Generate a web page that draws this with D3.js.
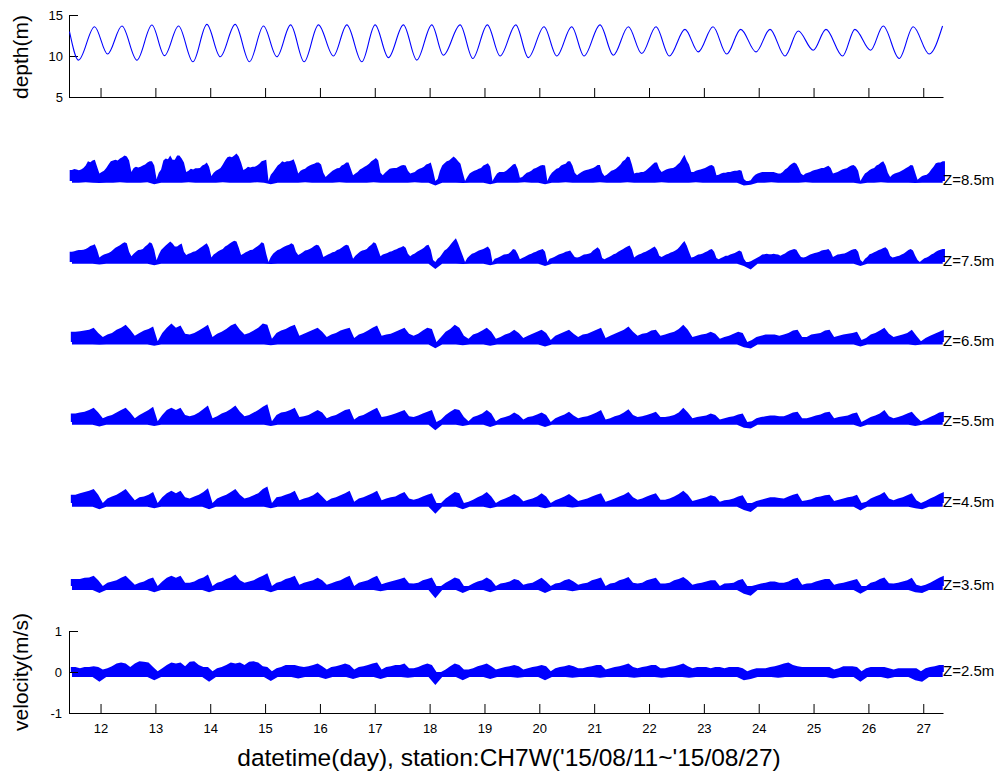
<!DOCTYPE html>
<html><head><meta charset="utf-8">
<script src="https://cdn.jsdelivr.net/npm/d3@7"></script>
<style>body{margin:0;background:#fff;} svg text{font-family:"Liberation Sans",Arial,sans-serif;}</style>
</head><body><svg id="c" width="1000" height="778"></svg>
<script>
// ---------- data ----------
const dayTicks = [12,13,14,15,16,17,18,19,20,21,22,23,24,25,26,27];
const depthTicks = [5,10,15];
const velTicks = [-1,0,1];
const depthLevels = [8.5,7.5,6.5,5.5,4.5,3.5,2.5];
const depthLabels = ["Z=8.5m","Z=7.5m","Z=6.5m","Z=5.5m","Z=4.5m","Z=3.5m","Z=2.5m"];
const xTitle = "datetime(day), station:CH7W('15/08/11~'15/08/27)";

// tide: successive high / low water (day, depth m)
const tideDay = [11.435,11.599,11.891,12.128,12.390,12.663,12.937,13.166,13.422,13.684,13.939,14.182,14.455,14.716,14.971,15.215,15.466,15.712,15.973,16.246,16.491,16.764,17.006,17.249,17.522,17.766,18.040,18.251,18.556,18.787,19.053,19.285,19.571,19.800,20.086,20.318,20.591,20.815,21.107,21.349,21.623,21.867,22.128,22.370,22.656,22.899,23.167,23.416,23.672,23.951,24.206,24.479,24.721,24.995,25.226,25.530,25.754,26.040,26.270,26.561,26.817,27.108,27.352];
const tideDepth = [12.96,9.5,13.57,10.24,13.66,9.5,13.78,10.04,13.66,9.3,13.86,9.9,13.86,9.3,13.66,9.9,13.8,9.3,13.8,10.0,13.8,9.3,13.8,9.8,13.8,9.5,13.8,10.1,13.8,9.7,13.8,10.0,13.8,9.8,13.57,10.0,13.57,10.0,13.8,10.1,13.57,10.3,13.57,10.0,13.25,10.5,13.57,10.24,13.25,10.5,13.25,10.0,13.05,10.7,13.25,10.0,13.25,10.7,13.66,9.7,13.57,10.24,13.66];

// stick velocities (cm/s), first sample 11 Aug 10:00
const startDay = 11 + 10/24;
const hi85 = [27,27,29,28,26,28,32,38,48,46,50,52, 35,18,22,25,32,40,48,50,52,50,55,58, 62,60,50,22,32,35,33,35,38,40,45,48,
 48,38,5,20,28,50,55,53,62,52,52,62, 62,55,45,22,25,30,28,31,31,32,38,40, 45,35,12,20,25,28,32,40,50,58,60,58,
 62,67,60,45,27,30,35,33,35,35,38,42, 48,50,52,0,15,22,30,38,42,48,46,48, 48,50,53,38,18,25,28,30,35,38,40,42,
 45,45,40,20,10,15,20,25,28,31,32,38, 40,45,45,30,14,18,22,28,31,35,38,42, 48,52,56,50,20,14,20,25,30,31,32,32,
 35,38,39,38,25,18,20,22,27,30,32,35, 40,42,45,25,0,5,25,38,43,48,50,55, 60,55,48,42,20,0,10,18,22,25,27,30,
 32,38,40,43,35,0,10,18,22,22,22,25, 30,35,40,42,30,8,10,15,20,22,25,30, 32,35,38,39,38,0,12,20,25,30,32,38,
 40,42,48,48,38,20,14,18,22,25,27,28, 30,32,35,39,39,20,12,15,20,25,27,30, 35,40,48,52,60,58,40,18,20,20,22,22,
 25,30,35,40,45,45,30,22,25,28,30,31, 32,35,40,45,55,64,50,40,22,22,25,27, 28,30,32,35,38,39,35,14,15,18,20,20,
 22,22,24,25,25,27,25,5,0,0,2,10, 15,18,20,22,22,22,22,22,22,20,18,18, 22,28,32,38,42,45,42,32,18,14,18,20,
 22,25,27,28,30,32,32,35,37,32,18,20, 22,25,28,30,31,35,38,39,35,25,0,10, 18,22,27,30,32,38,40,45,48,38,20,10,
 15,18,20,22,25,28,32,35,39,38,20,3, 8,12,14,15,20,28,35,43,45,45,48,48];
const hi75 = [25,25,26,28,29,29,30,32,35,39,41,43, 30,11,15,18,20,22,25,30,35,38,41,45, 48,46,25,14,20,25,29,30,32,38,42,48,
 45,30,4,18,29,35,40,45,50,45,38,38, 42,45,25,17,20,22,25,26,30,34,38,42, 46,35,11,18,22,26,29,32,38,41,45,49,
 52,50,35,17,20,24,26,29,30,34,38,42, 48,45,20,0,12,20,25,29,31,35,38,40, 42,46,42,25,17,20,24,28,29,32,35,39,
 42,40,30,12,15,18,21,24,25,29,31,35, 39,42,40,25,8,15,20,25,28,29,32,38, 42,48,45,30,14,18,20,22,25,26,29,31,
 34,36,39,35,20,14,18,21,25,28,31,35, 40,42,30,5,0,8,12,20,28,32,38,45, 52,58,45,30,15,0,10,15,20,22,25,28,
 30,32,35,38,30,0,8,10,12,15,18,19, 20,25,32,30,20,7,10,12,15,18,20,23, 25,28,30,32,25,0,8,10,12,15,18,20,
 22,25,26,28,20,12,11,12,15,18,19,20, 22,28,32,36,30,10,7,10,12,15,19,21, 25,28,31,35,38,40,30,11,15,18,20,23,
 25,28,31,35,38,30,15,12,15,18,20,23, 25,28,32,38,45,51,40,25,11,12,15,18, 19,21,24,26,30,32,25,10,7,10,12,15,
 15,18,20,22,25,28,25,8,0,0,2,5, 8,11,14,18,19,20,19,19,20,19,18,15, 18,21,25,28,30,32,30,20,12,11,12,15,
 18,20,22,23,25,28,29,30,32,25,12,15, 18,19,20,21,23,26,29,31,32,25,5,0, 8,12,19,21,24,26,29,31,34,36,30,15,
 11,12,14,15,18,21,25,29,32,28,15,5, 0,5,9,11,14,18,21,25,28,30,32,32];
const hi65 = [25,25,26,28,30,35,22,12,18,22,30,35, 42,30,15,22,28,32,38,2,22,35,45,35, 40,20,18,22,28,35,42,12,20,25,32,40,
 45,30,18,22,28,35,45,42,8,22,28,32, 38,42,15,20,25,30,35,25,12,18,22,28, 32,35,10,18,22,28,35,40,15,18,20,25,
 30,35,20,15,20,28,35,32,0,12,25,32, 42,35,15,8,18,22,28,35,25,8,12,18, 22,30,22,10,15,20,25,30,22,5,15,20,
 25,30,20,12,18,20,25,30,35,10,15,20, 25,30,38,25,15,20,22,28,30,15,18,22, 25,32,42,30,12,15,18,20,25,20,8,12,
 15,20,25,22,0,5,12,15,18,18,18,15, 18,22,28,30,12,12,18,20,22,28,30,12, 15,18,20,22,25,5,10,18,22,28,35,20,
 12,15,18,22,30,15,2,10,15,20,25,30];
const hi55 = [21,21,23,25,29,35,23,9,14,17,23,29, 35,23,9,17,23,29,37,2,17,29,35,29, 35,17,14,17,23,32,40,9,14,21,25,32,
 40,25,14,17,23,29,37,43,2,17,23,25, 29,35,12,14,17,23,29,23,9,14,17,23, 29,32,6,14,17,23,29,35,12,14,17,21,
 25,29,14,12,16,21,25,29,0,6,17,25, 32,29,12,2,12,16,21,29,21,2,9,12, 16,23,17,6,12,14,18,23,17,0,9,14,
 18,25,16,9,12,14,18,23,29,6,9,14, 17,23,31,17,12,14,17,21,25,12,12,14, 17,23,35,23,9,12,14,16,21,17,6,9,
 12,14,18,21,0,2,9,12,14,16,16,14, 14,18,23,25,9,9,12,16,18,23,25,9, 12,14,16,21,23,0,6,12,16,21,29,14,
 9,12,16,21,25,12,2,7,12,17,23,25];
const hi45 = [20,20,24,27,30,34,20,0,11,16,20,27, 34,20,7,14,16,20,27,0,14,24,30,24, 30,14,11,16,20,27,36,0,11,16,20,27,
 34,20,11,14,19,24,34,40,0,14,16,20, 24,30,7,11,14,19,27,16,4,11,14,19, 24,30,3,11,14,19,24,30,7,11,14,16,
 22,27,11,8,11,16,20,24,0,0,11,19, 27,24,0,3,8,14,19,27,16,0,7,11, 16,22,16,4,8,11,16,24,16,0,7,11,
 16,22,14,5,8,11,16,20,24,3,7,11, 16,20,27,14,8,11,16,20,24,8,8,11, 16,22,30,20,5,8,11,14,19,16,3,7,
 8,11,16,19,0,0,5,8,11,14,14,12, 11,16,20,23,5,7,9,14,16,19,20,5, 8,11,14,16,20,0,3,11,16,20,27,11,
 7,11,14,19,24,7,0,5,11,16,22,27];
const hi35 = [17,17,17,20,21,25,14,0,8,11,14,20, 25,14,3,8,11,17,21,0,11,20,25,20, 25,8,8,11,17,21,28,0,8,11,17,21,
 28,14,8,11,14,20,25,31,0,8,11,17, 20,25,3,8,11,14,20,14,3,7,11,14, 20,25,0,8,11,14,20,25,4,8,11,14,
 17,21,7,6,8,14,17,21,0,0,8,14, 21,17,0,0,6,11,14,21,14,0,6,8, 11,17,14,3,6,8,14,20,11,0,6,8,
 14,17,11,3,6,8,14,17,21,0,6,8, 14,17,22,8,6,8,14,17,20,6,6,8, 14,17,22,14,3,6,8,11,14,14,0,6,
 7,8,14,17,0,0,3,6,8,11,11,8, 8,11,17,20,3,6,7,11,14,17,17,3, 6,8,11,14,17,0,0,8,11,17,21,7,
 6,8,11,14,20,3,0,3,8,14,20,25];
const hi25 = [12,12,9,12,12,14,12,6,9,14,21,23, 21,12,21,26,25,23,12,2,9,17,23,21, 23,14,25,26,17,12,12,2,9,12,17,23,
 21,23,17,25,26,23,14,12,2,9,12,17, 17,17,14,12,14,17,21,14,6,12,14,17, 21,17,6,12,14,17,21,23,6,12,14,17,
 17,21,9,9,12,17,21,17,0,0,6,14, 21,17,6,6,9,14,17,21,14,6,9,12, 14,17,14,6,9,12,14,17,14,2,9,12,
 14,17,14,9,9,12,14,17,17,6,9,12, 14,17,21,12,9,12,14,17,17,9,9,12, 14,17,21,14,9,12,12,12,9,12,12,9,
 12,12,12,9,2,6,9,9,9,12,14,17, 21,23,17,14,12,12,12,12,12,12,12,6, 9,14,14,14,12,2,9,12,12,12,12,9,
 6,9,9,9,9,9,2,9,12,14,17,17];
// lowest (negative) stick in each 3-hour block (cm/s)
const lo85 = [-4,-4,-3,-4,-5,-4,-4,-3,-4,-4,-4,-3,-8,-4,-4,-4, -4,-3,-4,-4,-4,-4,-3,-4,-4,-4,-4,-3,-4,-8,-4,-4,
 -4,-4,-3,-4,-4,-4,-4,-3,-4,-4,-4,-4,-3,-4,-4,-4, -4,-4,-3,-4,-4,-11,-4,-4,-4,-5,-4,-4,-4,-8,-4,-4,
 -4,-4,-3,-4,-4,-8,-4,-4,-3,-4,-4,-4,-4,-3,-4,-4, -4,-3,-4,-4,-4,-4,-3,-4,-4,-4,-4,-3,-4,-4,-4,-4,
 -4,-4,-11,-9,-4,-4,-3,-4,-4,-4,-4,-3,-4,-4,-4,-4, -4,-4,-4,-7,-4,-4,-3,-4,-4,-4,-4,-5,-4,-4,-4,-4];
const lo75 = [-4,-4,-4,-4,-6,-4,-4,-4,-4,-4,-4,-4,-8,-4,-4,-4, -4,-4,-4,-4,-4,-4,-4,-4,-4,-4,-4,-4,-4,-5,-4,-4,
 -4,-4,-4,-4,-4,-4,-4,-4,-4,-4,-4,-4,-4,-4,-4,-4, -4,-4,-4,-4,-4,-17,-4,-4,-4,-5,-4,-4,-4,-8,-4,-4,
 -4,-4,-4,-4,-4,-10,-4,-4,-4,-4,-4,-4,-4,-4,-4,-4, -4,-4,-4,-4,-4,-4,-4,-4,-4,-4,-4,-4,-4,-4,-4,-4,
 -4,-4,-10,-18,-4,-4,-4,-4,-4,-4,-4,-4,-4,-4,-4,-4, -4,-4,-4,-10,-4,-4,-4,-4,-4,-4,-4,-4,-4,-4,-4,-4];
const lo65 = [-6,-6,-6,-6,-7,-6,-6,-6,-6,-6,-6,-6,-9,-6,-6,-6, -6,-6,-6,-6,-6,-6,-6,-6,-6,-6,-6,-6,-6,-8,-6,-6,
 -6,-6,-6,-6,-6,-6,-6,-6,-6,-6,-6,-6,-6,-6,-6,-6, -6,-6,-6,-6,-6,-15,-6,-6,-6,-8,-6,-6,-6,-9,-6,-6,
 -6,-6,-6,-6,-6,-11,-6,-6,-6,-6,-6,-6,-6,-6,-6,-6, -6,-6,-6,-6,-6,-6,-6,-6,-6,-6,-6,-6,-6,-6,-6,-6,
 -6,-6,-13,-16,-6,-6,-6,-6,-6,-6,-6,-6,-6,-6,-6,-6, -6,-6,-6,-11,-6,-6,-6,-6,-6,-6,-6,-8,-6,-6,-6,-6];
const lo55 = [-7,-7,-7,-7,-11,-7,-7,-7,-7,-7,-7,-7,-10,-7,-7,-7, -7,-7,-7,-7,-7,-7,-7,-7,-7,-7,-7,-7,-7,-10,-7,-7,
 -7,-7,-7,-7,-7,-7,-7,-7,-7,-7,-7,-7,-7,-7,-7,-7, -7,-7,-7,-7,-7,-20,-7,-7,-7,-10,-7,-7,-7,-12,-7,-7,
 -7,-7,-7,-7,-7,-12,-7,-7,-7,-7,-7,-7,-7,-7,-7,-7, -7,-7,-7,-7,-7,-7,-7,-7,-7,-7,-7,-7,-7,-7,-7,-7,
 -7,-7,-14,-16,-7,-7,-7,-7,-7,-7,-7,-7,-7,-7,-7,-7, -7,-7,-7,-12,-7,-7,-7,-7,-7,-7,-7,-10,-7,-7,-7,-7];
const lo45 = [-9,-9,-9,-9,-15,-9,-9,-9,-9,-9,-9,-9,-13,-9,-9,-9, -9,-9,-9,-9,-15,-9,-9,-9,-9,-9,-9,-9,-9,-13,-9,-9,
 -9,-9,-9,-9,-9,-9,-9,-9,-9,-9,-9,-9,-9,-9,-9,-9, -9,-9,-9,-9,-9,-26,-9,-9,-9,-15,-9,-9,-9,-13,-9,-9,
 -9,-9,-9,-9,-9,-13,-9,-9,-9,-11,-9,-9,-9,-9,-9,-9, -9,-9,-9,-9,-9,-9,-9,-9,-9,-9,-9,-9,-9,-9,-9,-9,
 -9,-9,-17,-22,-9,-9,-9,-9,-9,-9,-9,-9,-9,-9,-9,-9, -9,-9,-9,-18,-9,-9,-9,-9,-9,-9,-9,-13,-15,-9,-9,-9];
const lo35 = [-10,-10,-10,-10,-17,-10,-10,-10,-10,-10,-10,-10,-15,-10,-10,-10, -10,-10,-10,-10,-15,-10,-10,-10,-10,-10,-10,-10,-10,-15,-10,-10,
 -10,-10,-10,-10,-10,-10,-10,-10,-10,-10,-10,-10,-10,-13,-10,-10, -10,-10,-10,-10,-10,-30,-10,-10,-10,-17,-10,-10,-10,-15,-10,-10,
 -10,-10,-10,-10,-10,-17,-10,-10,-10,-13,-10,-10,-10,-10,-10,-10, -10,-10,-10,-10,-10,-10,-10,-10,-10,-10,-10,-10,-10,-10,-10,-10,
 -10,-10,-19,-24,-10,-10,-10,-10,-10,-10,-10,-10,-10,-10,-10,-10, -10,-10,-10,-19,-10,-10,-10,-10,-10,-10,-10,-15,-17,-10,-10,-10];
const lo25 = [-12,-12,-12,-12,-24,-12,-12,-12,-12,-12,-12,-12,-20,-12,-12,-12, -12,-12,-12,-12,-24,-12,-12,-12,-12,-12,-12,-12,-12,-22,-12,-12,
 -12,-16,-12,-12,-12,-17,-12,-12,-12,-17,-12,-12,-12,-17,-12,-12, -12,-14,-12,-12,-12,-32,-12,-12,-12,-20,-12,-12,-12,-17,-12,-12,
 -12,-14,-12,-12,-12,-20,-12,-12,-12,-14,-12,-12,-12,-14,-12,-12, -12,-12,-14,-12,-12,-12,-14,-12,-12,-12,-14,-12,-12,-12,-12,-12,
 -12,-12,-20,-17,-12,-12,-12,-14,-12,-12,-12,-12,-12,-12,-12,-16, -12,-12,-12,-24,-12,-12,-12,-16,-12,-12,-12,-20,-24,-12,-12,-12];

// ---------- layout ----------
const rows = [
  {z:8.5, hi:hi85, hiStep:1, lo:lo85},
  {z:7.5, hi:hi75, hiStep:1, lo:lo75},
  {z:6.5, hi:hi65, hiStep:2, lo:lo65},
  {z:5.5, hi:hi55, hiStep:2, lo:lo55},
  {z:4.5, hi:hi45, hiStep:2, lo:lo45},
  {z:3.5, hi:hi35, hiStep:2, lo:lo35},
  {z:2.5, hi:hi25, hiStep:2, lo:lo25}
];
const loStep = 3;
const FONT = '"Liberation Sans",Arial,sans-serif';
const svg = d3.select('#c');
const xs = d3.scaleLinear().domain([11.425, 27.36]).range([69, 943]);
const yDepth = d3.scaleLinear().domain([5, 15]).range([97, 15]);
const rowBase = d3.scaleLinear().domain(depthLevels).range([181, 262, 342, 422, 503, 586, 672]);
const BLUE = '#0000ff';

function styleAxis(g, size) {
  g.attr('font-family', FONT).attr('font-size', size);
  g.selectAll('path.domain').attr('stroke', '#000').attr('stroke-width', 1);
  g.selectAll('.tick line').attr('stroke', '#000').attr('stroke-width', 1);
  g.selectAll('.tick text').attr('fill', '#000');
}

// ---------- top panel: depth ----------
const topX = svg.append('g').attr('transform', 'translate(0,97)')
  .call(d3.axisBottom(xs).tickValues(dayTicks).tickFormat('').tickSizeInner(-9).tickSizeOuter(0));
styleAxis(topX, 13);
const topY = svg.append('g').attr('transform', 'translate(69,0)')
  .call(d3.axisLeft(yDepth).tickValues(depthTicks).tickFormat(d => String(d)).tickSizeInner(-9).tickSizeOuter(0).tickPadding(6));
styleAxis(topY, 13);

const tidePts = tideDay.map((d, i) => [d, tideDepth[i]]);
svg.append('path').datum(tidePts)
  .attr('fill', 'none').attr('stroke', BLUE).attr('stroke-width', 1.1)
  .attr('d', d3.line().x(d => xs(d[0])).y(d => yDepth(d[1])).curve(d3.curveMonotoneX));

svg.append('text').attr('transform', 'translate(28,57) rotate(-90)')
  .attr('text-anchor', 'middle').attr('font-size', 21).attr('fill', '#000').text('depth(m)');

// ---------- stick rows (envelope of the sticks) ----------
rows.forEach((r, ri) => {
  const base = rowBase(r.z);
  const yv = d3.scaleLinear().domain([-1, 1]).range([base + 41, base - 41]);
  const hiPts = r.hi.map((v, i) => ({t: startDay + (i + 0.5) * r.hiStep / 24, v: Math.max(v, 0) / 100}));
  const loPts = r.lo.map((v, i) => ({t: startDay + (i + 0.5) * loStep / 24, v: Math.min(v, 0) / 100}));
  const area = d3.area().x(d => xs(d.t)).y0(yv(0)).y1(d => yv(d.v)).curve(d3.curveLinear);
  svg.append('path').datum(hiPts).attr('fill', BLUE).attr('d', area);
  svg.append('path').datum(loPts).attr('fill', BLUE).attr('d', area);
  svg.append('text').attr('x', 943).attr('y', base + 4).attr('font-size', 15).attr('fill', '#000')
    .text(depthLabels[ri]);
  if (ri === rows.length - 1) {
    const bx = svg.append('g').attr('transform', 'translate(0,' + yv(-1) + ')')
      .call(d3.axisBottom(xs).tickValues(dayTicks).tickFormat(d => String(d)).tickSizeInner(-9).tickSizeOuter(0).tickPadding(11));
    styleAxis(bx, 13);
    const by = svg.append('g').attr('transform', 'translate(69,0)')
      .call(d3.axisLeft(yv).tickValues(velTicks).tickFormat(d => String(d)).tickSizeInner(-9).tickSizeOuter(0).tickPadding(7));
    styleAxis(by, 13);
    svg.append('text').attr('transform', 'translate(28,' + base + ') rotate(-90)')
      .attr('text-anchor', 'middle').attr('font-size', 21).attr('fill', '#000').text('velocity(m/s)');
  }
});

svg.append('text').attr('x', 509).attr('y', 766).attr('text-anchor', 'middle')
  .attr('font-size', 24.5).attr('fill', '#000').text(xTitle);
</script></body></html>
